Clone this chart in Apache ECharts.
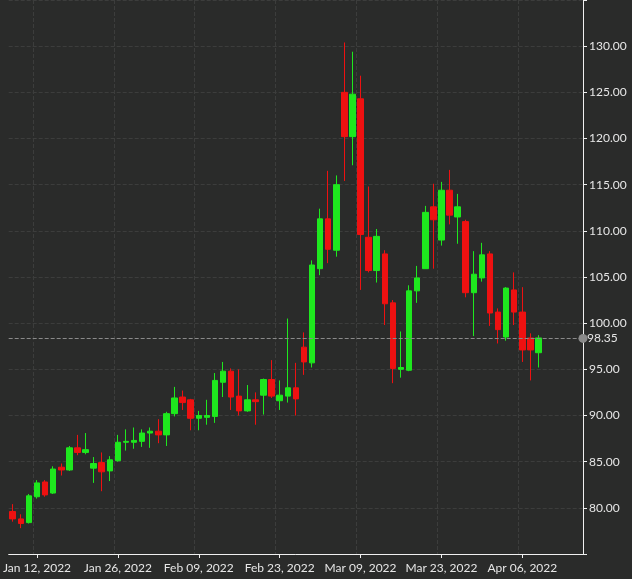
<!DOCTYPE html>
<html>
<head>
<meta charset="utf-8">
<script src="https://cdn.jsdelivr.net/npm/echarts@6/dist/echarts.min.js"></script>
<style>
  html, body { margin: 0; padding: 0; background: #2a2b2a; }
  #chart { width: 632px; height: 579px; }
</style>
</head>
<body>
<div id="chart"></div>
<script>
// Daily candles, [open, close, low, high], trading days from Jan 07 2022
var opens  = [79.6, 78.8, 78.4, 81.2, 82.8, 81.6, 84.4, 84.1, 86.5, 86.0,
              84.3, 84.9, 84.0, 85.1, 87.1, 87.1, 87.2, 88.1, 88.3, 87.9,
              90.2, 92.0, 91.7, 89.7, 89.8, 89.9, 93.6, 94.8, 92.1, 90.5,
              91.7, 92.2, 93.9, 91.6, 92.1, 93.0, 97.4, 95.7, 105.9, 111.3,
              107.9, 125.0, 120.2, 124.3, 109.3, 105.7, 107.5, 102.2, 95.0, 94.9,
              103.5, 105.9, 112.6, 109.0, 114.4, 111.5, 111.0, 103.3, 104.9, 107.5,
              101.2, 98.5, 103.6, 101.2, 98.4, 96.8];
var closes = [78.8, 78.3, 81.3, 82.7, 81.4, 84.2, 84.1, 86.5, 86.0, 86.3,
              84.8, 83.9, 85.2, 87.1, 87.2, 87.3, 88.1, 88.3, 87.9, 90.2,
              91.9, 91.4, 89.7, 90.0, 90.0, 93.8, 94.8, 92.0, 90.5, 91.7,
              91.5, 93.9, 92.1, 92.2, 93.0, 91.8, 95.8, 106.3, 111.3, 108.0,
              115.0, 120.2, 124.8, 109.6, 105.7, 109.4, 102.1, 95.1, 95.2, 103.5,
              104.9, 112.0, 111.2, 114.4, 111.7, 112.6, 103.3, 105.3, 107.4, 101.1,
              99.3, 103.8, 101.2, 97.1, 97.1, 98.4];
var lows   = [78.5, 77.8, 78.3, 81.0, 81.2, 81.5, 83.5, 84.0, 85.7, 85.8,
              82.7, 81.8, 82.9, 85.0, 86.2, 86.4, 86.6, 86.5, 87.0, 86.7,
              89.9, 90.6, 88.4, 88.4, 89.0, 89.2, 92.0, 90.6, 90.0, 90.4,
              89.0, 90.1, 91.9, 90.6, 91.4, 90.0, 94.4, 95.2, 105.2, 106.5,
              107.2, 115.4, 117.1, 103.6, 105.5, 104.4, 99.8, 93.5, 94.1, 94.8,
              102.2, 105.9, 105.9, 108.4, 110.7, 108.6, 102.8, 98.6, 104.5, 99.7,
              97.8, 98.1, 99.8, 95.8, 93.8, 95.2];
var highs  = [80.4, 79.3, 81.5, 83.0, 83.0, 84.5, 84.8, 86.7, 87.9, 88.1,
              85.5, 86.0, 85.6, 87.9, 88.5, 88.7, 88.5, 88.7, 89.6, 90.4,
              93.1, 92.7, 91.8, 90.5, 91.7, 94.6, 95.8, 95.1, 95.0, 93.3,
              92.5, 94.0, 96.0, 93.8, 100.5, 95.7, 99.0, 106.8, 112.4, 116.5,
              116.0, 130.4, 129.4, 126.8, 114.8, 110.2, 107.9, 102.5, 99.1, 104.1,
              106.2, 112.7, 115.1, 115.3, 116.6, 114.0, 111.2, 107.8, 108.7, 107.8,
              101.6, 103.9, 105.5, 103.9, 98.9, 98.7];
var lastPrice = 98.35;
var startDate = '2022-01-07';
var emptyDaysAfter = 5;
var labelEvery = 10, labelOffset = 3;

// trading-day categories (weekdays), with a few empty days on the right
var months = ['Jan', 'Feb', 'Mar', 'Apr', 'May', 'Jun', 'Jul', 'Aug', 'Sep', 'Oct', 'Nov', 'Dec'];
var dates = [];
var d = new Date(startDate + 'T12:00:00Z');
while (dates.length < opens.length + emptyDaysAfter) {
    var wd = d.getUTCDay();
    if (wd !== 0 && wd !== 6) {
        var dd = d.getUTCDate();
        dates.push(months[d.getUTCMonth()] + ' ' + (dd < 10 ? '0' + dd : dd) + ', ' + d.getUTCFullYear());
    }
    d.setUTCDate(d.getUTCDate() + 1);
}

var candles = opens.map(function (o, i) { return [o, closes[i], lows[i], highs[i]]; });

var showIdx = function (i) { return i % labelEvery === labelOffset; };

var chart = echarts.init(document.getElementById('chart'));
chart.setOption({
    backgroundColor: '#2a2b2a',
    animation: false,
    textStyle: { fontFamily: 'Lato, Arial, sans-serif' },
    grid: { left: 0, right: 49, top: -1, bottom: 25 },
    xAxis: {
        type: 'category',
        data: dates,
        boundaryGap: true,
        axisLine: { lineStyle: { color: '#f0f0f0', width: 1 } },
        axisTick: { show: true, interval: showIdx, alignWithLabel: true, length: 4, lineStyle: { color: '#f0f0f0' } },
        axisLabel: { interval: showIdx, color: '#e6e6e6', fontSize: 12, margin: 8 },
        splitLine: { show: true, interval: showIdx, lineStyle: { color: '#3c3d3c', type: 'dashed' } }
    },
    yAxis: {
        type: 'value',
        position: 'right',
        min: 75, max: 135, interval: 5,
        axisLine: { show: true, lineStyle: { color: '#f0f0f0' } },
        axisTick: { show: true, length: 4, lineStyle: { color: '#f0f0f0' } },
        axisLabel: {
            color: '#e6e6e6', fontSize: 12, margin: 6,
            formatter: function (v) { return (v === 75 || v === 135) ? '' : v.toFixed(2); }
        },
        splitLine: { show: true, lineStyle: { color: '#3c3d3c', type: 'dashed' } }
    },
    series: [{
        type: 'candlestick',
        data: candles,
        barWidth: 6,
        itemStyle: {
            color: '#1ee81e', color0: '#ee1111',
            borderColor: '#1ee81e', borderColor0: '#ee1111', borderWidth: 1
        },
        markLine: {
            silent: true,
            symbol: ['none', 'circle'],
            symbolSize: 9,
            lineStyle: { color: '#8a8a8a', type: 'dashed', width: 1 },
            itemStyle: { color: '#8a8a8a' },
            label: { show: true, position: 'end', color: '#e6e6e6', fontSize: 12, distance: 4, formatter: lastPrice.toFixed(2) },
            data: [{ yAxis: lastPrice }]
        }
    }]
});
</script>
</body>
</html>
